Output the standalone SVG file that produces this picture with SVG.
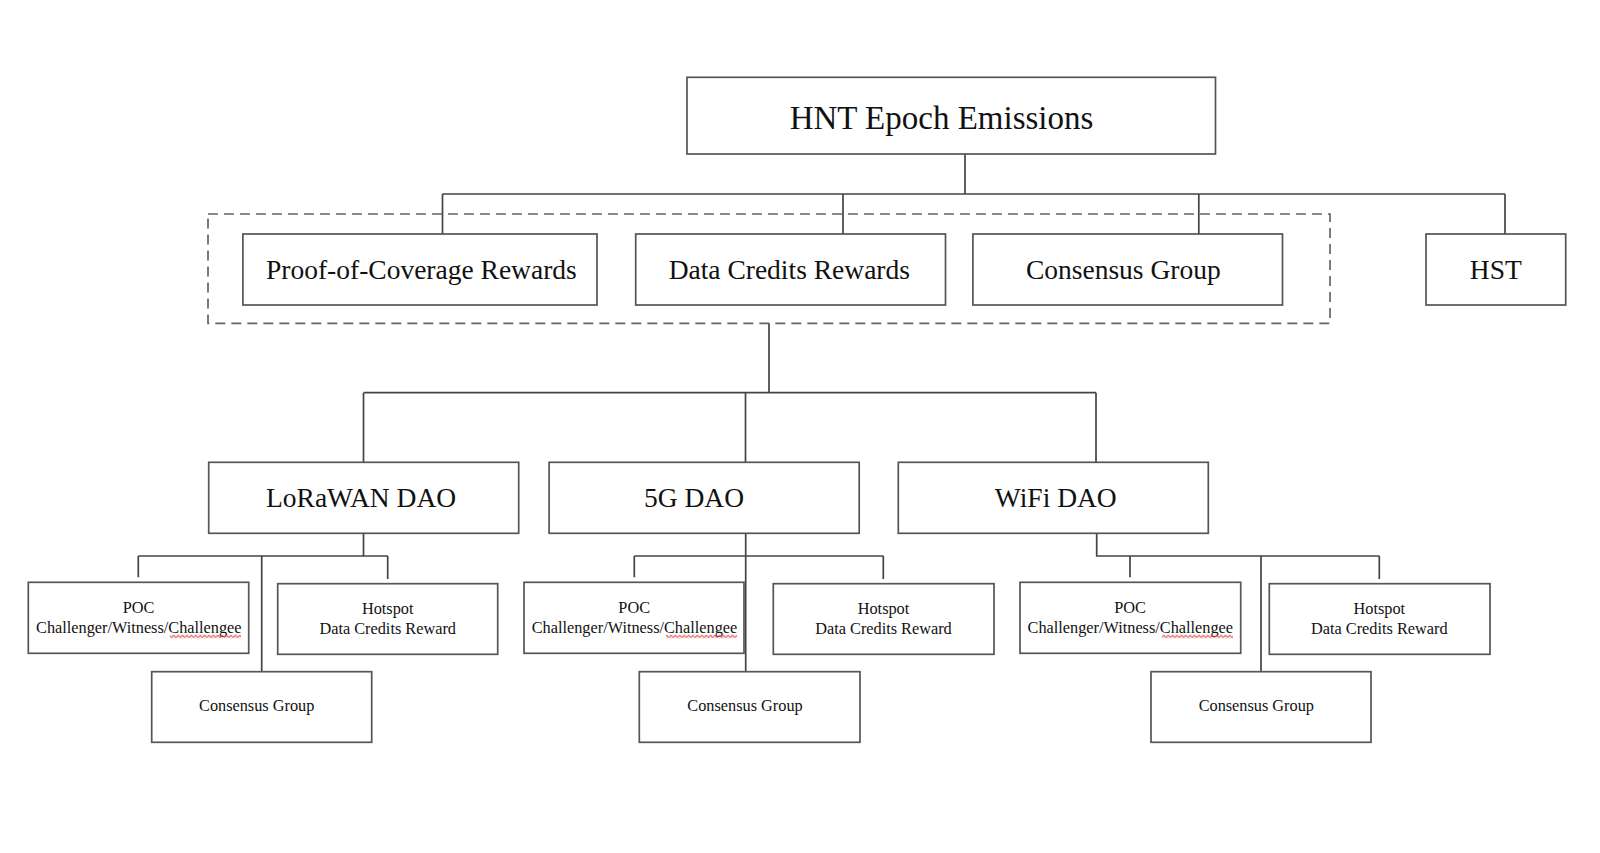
<svg xmlns="http://www.w3.org/2000/svg" width="1600" height="853" viewBox="0 0 1600 853">
<style>
.box{fill:#fff;stroke:#555;stroke-width:1.7}
.dash{fill:none;stroke:#666;stroke-width:1.7;stroke-dasharray:10 6}
.con{fill:none;stroke:#444;stroke-width:1.7}
text{font-family:"Liberation Serif","DejaVu Serif",serif;fill:#111;text-anchor:middle}
.t1{font-size:33px}
.t2{font-size:27.5px}
.t3{font-size:16.3px}
</style>
<defs>
<pattern id="squiggle" patternUnits="userSpaceOnUse" x="0" y="634.5" width="4.4" height="4">
<path d="M0,3.3 L2.2,0.7 L4.4,3.3" fill="none" stroke="#d9413f" stroke-width="1"/>
</pattern>
</defs>
<rect width="1600" height="853" fill="#fff"/>

<g id="connectors">
<path class="con" d="M965,154 V194 M442.5,194 H1505 M442.5,194 V234 M843,194 V234 M1198.8,194 V234 M1505,194 V234"/>
<path class="con" d="M769,323.3 V392.7 M363.5,392.7 H1096 M363.5,392.7 V462.3 M745.5,392.7 V462.3 M1096,392.7 V462.3"/>
<path class="con" d="M363.5,533 V556 M138.3,556 H387.7 M138.3,556 V577.3 M387.7,556 V579 M261.7,556 V671.7"/>
<path class="con" d="M745.7,533 V676 M634.3,556 H883.3 M634.3,556 V577.3 M883.3,556 V579"/>
<path class="con" d="M1096.7,533 V556 H1379.3 M1130,556 V577.3 M1379.3,556 V579 M1261,556 V671.7"/>
</g>

<g id="group-dashed">
<rect class="dash" x="208" y="214" width="1122" height="109.3"/>
</g>

<g id="hnt">
<rect class="box" x="687" y="77.3" width="528.5" height="76.7"/>
<text class="t1" x="941.5" y="128.5">HNT Epoch Emissions</text>
</g>

<g id="poc-rewards">
<rect class="box" x="242.9" y="234" width="354.1" height="71"/>
<text class="t2" x="421.4" y="279">Proof-of-Coverage Rewards</text>
</g>
<g id="dc-rewards">
<rect class="box" x="635.7" y="234" width="309.8" height="71"/>
<text class="t2" x="789.3" y="279">Data Credits Rewards</text>
</g>
<g id="consensus-top">
<rect class="box" x="972.9" y="234" width="309.6" height="71"/>
<text class="t2" x="1123.3" y="279">Consensus Group</text>
</g>
<g id="hst">
<rect class="box" x="1426" y="234" width="139.7" height="71"/>
<text class="t2" x="1495.8" y="279">HST</text>
</g>

<g id="lorawan-dao">
<rect class="box" x="208.7" y="462.3" width="310" height="71"/>
<text class="t2" x="361.1" y="507">LoRaWAN DAO</text>
</g>
<g id="fiveg-dao">
<rect class="box" x="549.1" y="462.3" width="310.1" height="71"/>
<text class="t2" x="694" y="507">5G DAO</text>
</g>
<g id="wifi-dao">
<rect class="box" x="898.3" y="462.3" width="310" height="71"/>
<text class="t2" x="1055.8" y="507">WiFi DAO</text>
</g>

<g id="lorawan-poc">
<rect class="box" x="28.3" y="582.3" width="220.4" height="71"/>
<text class="t3" x="138.5" y="612.7">POC</text>
<text class="t3" x="138.8" y="633.3">Challenger/Witness/Challengee</text>
<rect x="170" y="634.5" width="71" height="4" fill="url(#squiggle)"/>
</g>
<g id="lorawan-hotspot">
<rect class="box" x="277.7" y="583.7" width="220" height="70.6"/>
<text class="t3" x="387.7" y="614">Hotspot</text>
<text class="t3" x="387.7" y="634">Data Credits Reward</text>
</g>
<g id="lorawan-consensus">
<rect class="box" x="151.7" y="671.7" width="220" height="70.6"/>
<text class="t3" x="256.7" y="711">Consensus Group</text>
</g>

<g id="fiveg-poc">
<rect class="box" x="524" y="582.3" width="220" height="71"/>
<text class="t3" x="634.2" y="612.7">POC</text>
<text class="t3" x="634.5" y="633.3">Challenger/Witness/Challengee</text>
<rect x="666" y="634.5" width="71" height="4" fill="url(#squiggle)"/>
</g>
<g id="fiveg-hotspot">
<rect class="box" x="773.3" y="583.7" width="220.7" height="70.6"/>
<text class="t3" x="883.5" y="614">Hotspot</text>
<text class="t3" x="883.5" y="634">Data Credits Reward</text>
</g>
<g id="fiveg-consensus">
<rect class="box" x="639.3" y="671.7" width="220.7" height="70.6"/>
<text class="t3" x="745" y="711">Consensus Group</text>
</g>

<g id="wifi-poc">
<rect class="box" x="1020" y="582.3" width="220.7" height="71"/>
<text class="t3" x="1130" y="612.7">POC</text>
<text class="t3" x="1130.3" y="633.3">Challenger/Witness/Challengee</text>
<rect x="1162" y="634.5" width="71" height="4" fill="url(#squiggle)"/>
</g>
<g id="wifi-hotspot">
<rect class="box" x="1269.3" y="583.7" width="220.7" height="70.6"/>
<text class="t3" x="1379.3" y="614">Hotspot</text>
<text class="t3" x="1379.3" y="634">Data Credits Reward</text>
</g>
<g id="wifi-consensus">
<rect class="box" x="1151" y="671.7" width="220" height="70.6"/>
<text class="t3" x="1256.3" y="711">Consensus Group</text>
</g>
</svg>
